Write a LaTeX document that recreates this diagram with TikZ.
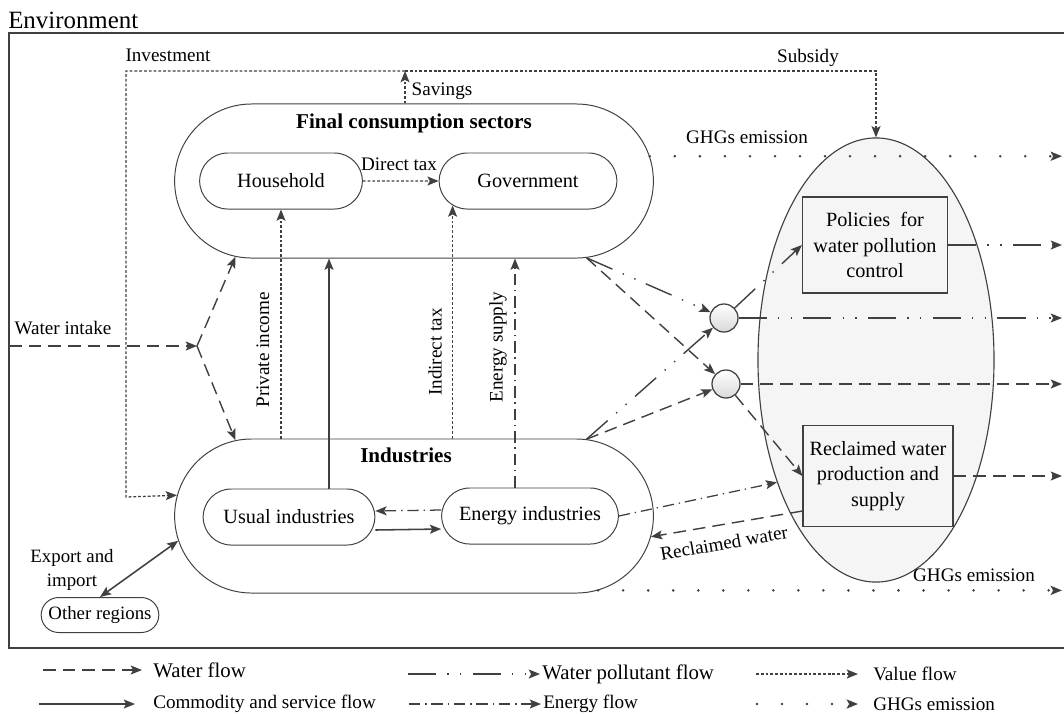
\documentclass[tikz,border=0pt]{standalone}
\usepackage{fontspec}
\setmainfont{Liberation Serif}
\usetikzlibrary{arrows.meta,shapes.misc,shapes.geometric}

\tikzset{
  >={Stealth[length=8pt,width=6.4pt,inset=1.7pt]},
  lbl/.style={font=\fontsize{13.6}{16}\selectfont, inner sep=0pt},
  biglbl/.style={font=\fontsize{14.8}{17}\selectfont, inner sep=0pt},
  title/.style={font=\fontsize{15}{18}\selectfont\bfseries, inner sep=0pt},
  sector/.style={rounded rectangle, draw=black!75, line width=0.7pt, minimum width=12.2cm, minimum height=3.85cm},
  unit/.style={rounded rectangle, draw=black!75, line width=0.7pt, minimum height=1.4cm, font=\fontsize{14.4}{18}\selectfont},
  facility/.style={draw=black!75, fill=black!4, line width=0.8pt, align=center, font=\fontsize{14.4}{18}\selectfont, inner sep=0pt},
  mixer/.style={circle, draw=black!75, line width=0.9pt, minimum size=0.7cm, top color=white, bottom color=black!15},
  waterflow/.style={draw=black!75, line width=1pt, dash pattern=on 9pt off 5pt},
  goodsflow/.style={draw=black!75, line width=1.1pt},
  valueflow/.style={draw=black!75, line width=0.9pt, dash pattern=on 2pt off 1.4pt},
  pollutflow/.style={draw=black!75, line width=1pt, dash pattern=on 20pt off 8pt on 1pt off 8pt on 1pt off 8pt},
  energyflow/.style={draw=black!75, line width=0.9pt, dash pattern=on 8pt off 3.5pt on 1pt off 3.5pt},
  ghgflow/.style={draw=black!75, line width=2pt, line cap=round, dash pattern=on 0pt off 17.8pt}
}

\begin{document}
\begin{tikzpicture}[x=0.025cm,y=-0.025cm]
  \useasboundingbox (0,0) rectangle (1064,713);

  % environment
  \node[anchor=west, inner sep=0pt, font=\fontsize{17.7}{20}\selectfont] (env) at (8,20) {Environment};
  \draw[draw=black!75, line width=1.2pt] (1066,33) -- (9,33) -- (9,648) -- (1066,648);
  \coordinate (redge) at (1062,0);

  % water plant
  \node[ellipse, draw=black!75, fill=black!4, line width=0.8pt, minimum width=5.9cm, minimum height=11.1cm, inner sep=0pt] (plant) at (876,360) {};
  \node[facility, minimum width=3.625cm, minimum height=2.4cm] (pol) at (875,245) {Policies~~for\\water pollution\\control};
  \node[facility, minimum width=3.75cm, minimum height=2.525cm] (recl) at (878,476) {Reclaimed water\\production and\\supply};

  % sectors
  \node[sector] (fcs) at (414,181) {};
  \node[title] (fcstitle) at (414,123) {Final consumption sectors};
  \node[unit, minimum width=4.3cm] (hh) at (281,181) {Household};
  \node[unit, minimum width=4.675cm] (gov) at (528,181) {Government};

  \node[sector] (ind) at (414,516) {};
  \node[title] (indtitle) at (406,455) {Industries};
  \node[unit, minimum width=4.525cm] (usual) at (289,517) {Usual industries};
  \node[unit, minimum width=4.65cm] (energy) at (530,516) {Energy industries};

  \node[rounded rectangle, draw=black!75, line width=0.7pt, minimum width=3.175cm, minimum height=0.875cm, font=\fontsize{13.4}{16}\selectfont] (other) at (100,615) {Other regions};
  \node[lbl, align=center, font=\fontsize{13.4}{16.5}\selectfont] (exlbl) at (72,570) {Export and\\import};

  \node[mixer] (c1) at (724,318) {};
  \node[mixer] (c2) at (726,384) {};

  % value flows
  \coordinate (sav) at (405,71);
  \coordinate (inv) at (126,497);
  \draw[valueflow,->] (sav |- fcs.north) -- (sav);
  \draw[valueflow,->] (sav) -| (inv) -- (ind.175);
  \draw[valueflow,->] (sav) -| (plant.north);
  \draw[valueflow,->] (hh) -- (gov);
  \draw[valueflow,->] (ind.north -| hh.south) -- (hh.south);
  \draw[valueflow,->] (gov.198 |- ind.north) -- (gov.198);
  \node[lbl] (invlbl) at (168,55) {Investment};
  \node[lbl] (sublbl) at (808,58) {Subsidy};
  \node[lbl] (savlbl) at (442,91) {Savings};
  \node[lbl] (dtlbl) at (399,164) {Direct tax};
  \node[lbl, rotate=90] (pilbl) at (263,350) {Private income};
  \node[lbl, rotate=90] (itlbl) at (435,352) {Indirect tax};

  % commodity and energy
  \draw[goodsflow,->] ([xshift=1cm]usual.north) -- ([xshift=1cm]usual.north |- fcs.south);
  \draw[goodsflow,->] ([yshift=-0.325cm]usual.east) -- ([yshift=-0.325cm]energy.west);
  \draw[goodsflow,<->] (other.north) -- (ind.186);
  \draw[energyflow,->] ([xshift=-0.375cm]energy.north) -- ([xshift=-0.375cm]energy.north |- fcs.south);
  \draw[energyflow,->] ([yshift=0.15cm]energy.west) -- ([yshift=0.15cm]usual.east);
  \draw[energyflow,->] (energy.east) -- (plant.231.7);
  \node[lbl, rotate=90] (eslbl) at (498,347) {Energy supply};

  % water
  \coordinate (win) at (9,346);
  \coordinate (split) at (197,346);
  \draw[waterflow,->] (win) -- (split);
  \draw[waterflow,->] (split) -- (fcs.203);
  \draw[waterflow,->] (split) -- (ind.157);
  \node[lbl] (wilbl) at (63,328) {Water intake};
  \draw[waterflow,->] (fcs.-24.5) -- (c2);
  \draw[waterflow,->] (ind.24) -- (c2);
  \draw[waterflow,->] (c2) -- (c2 -| redge);
  \draw[waterflow,->] (c2) -- (recl.west);
  \draw[waterflow,->] (recl) -- (recl -| redge);
  \draw[waterflow,->] ([yshift=-0.875cm]recl.west) -- (ind.-5);
  \node[lbl, rotate=10] (rwlbl) at (724,543) {Reclaimed water};

  % pollutants
  \draw[pollutflow,->] (fcs.-24.5) -- (c1);
  \draw[pollutflow,->] (ind.24) -- (c1);
  \draw[pollutflow,->] (c1) -- (pol.west);
  \draw[pollutflow,->] (c1) -- (c1 -| redge);
  \draw[pollutflow,->] (pol) -- (pol -| redge);

  % GHGs
  \draw[ghgflow,->] (fcs.6.4) -- (fcs.6.4 -| redge);
  \draw[ghgflow,->] (ind.-22) -- (ind.-22 -| redge);
  \node[lbl] (ghg1lbl) at (747,137) {GHGs emission};
  \node[lbl] (ghg2lbl) at (974,575) {GHGs emission};

  % legend
  \node[biglbl, anchor=west] (lgwater) at (153,670) {Water flow};
  \draw[waterflow,->] ([xshift=-2.75cm]lgwater.west) -- ([xshift=-0.275cm]lgwater.west);
  \node[lbl, anchor=west] (lggoods) at (153,704) {Commodity and service flow};
  \draw[goodsflow,->] ([xshift=-2.85cm]lggoods.west) -- ([xshift=-0.45cm]lggoods.west);
  \node[biglbl, anchor=west] (lgpollut) at (542,674) {Water pollutant flow};
  \draw[pollutflow,->] ([xshift=-3.35cm]lgpollut.west) -- ([xshift=-0.05cm]lgpollut.west);
  \node[lbl, anchor=west] (lgenergy) at (543,704) {Energy flow};
  \draw[energyflow,->] ([xshift=-3.35cm]lgenergy.west) -- ([xshift=-0.05cm]lgenergy.west);
  \node[lbl, anchor=west] (lgvalue) at (873,674) {Value flow};
  \draw[valueflow,->] ([xshift=-2.925cm]lgvalue.west) -- ([xshift=-0.375cm]lgvalue.west);
  \node[lbl, anchor=west] (lgghg) at (873,704) {GHGs emission};
  \draw[ghgflow,->] ([xshift=-2.9cm]lgghg.west) -- ([xshift=-0.375cm]lgghg.west);
\end{tikzpicture}
\end{document}
